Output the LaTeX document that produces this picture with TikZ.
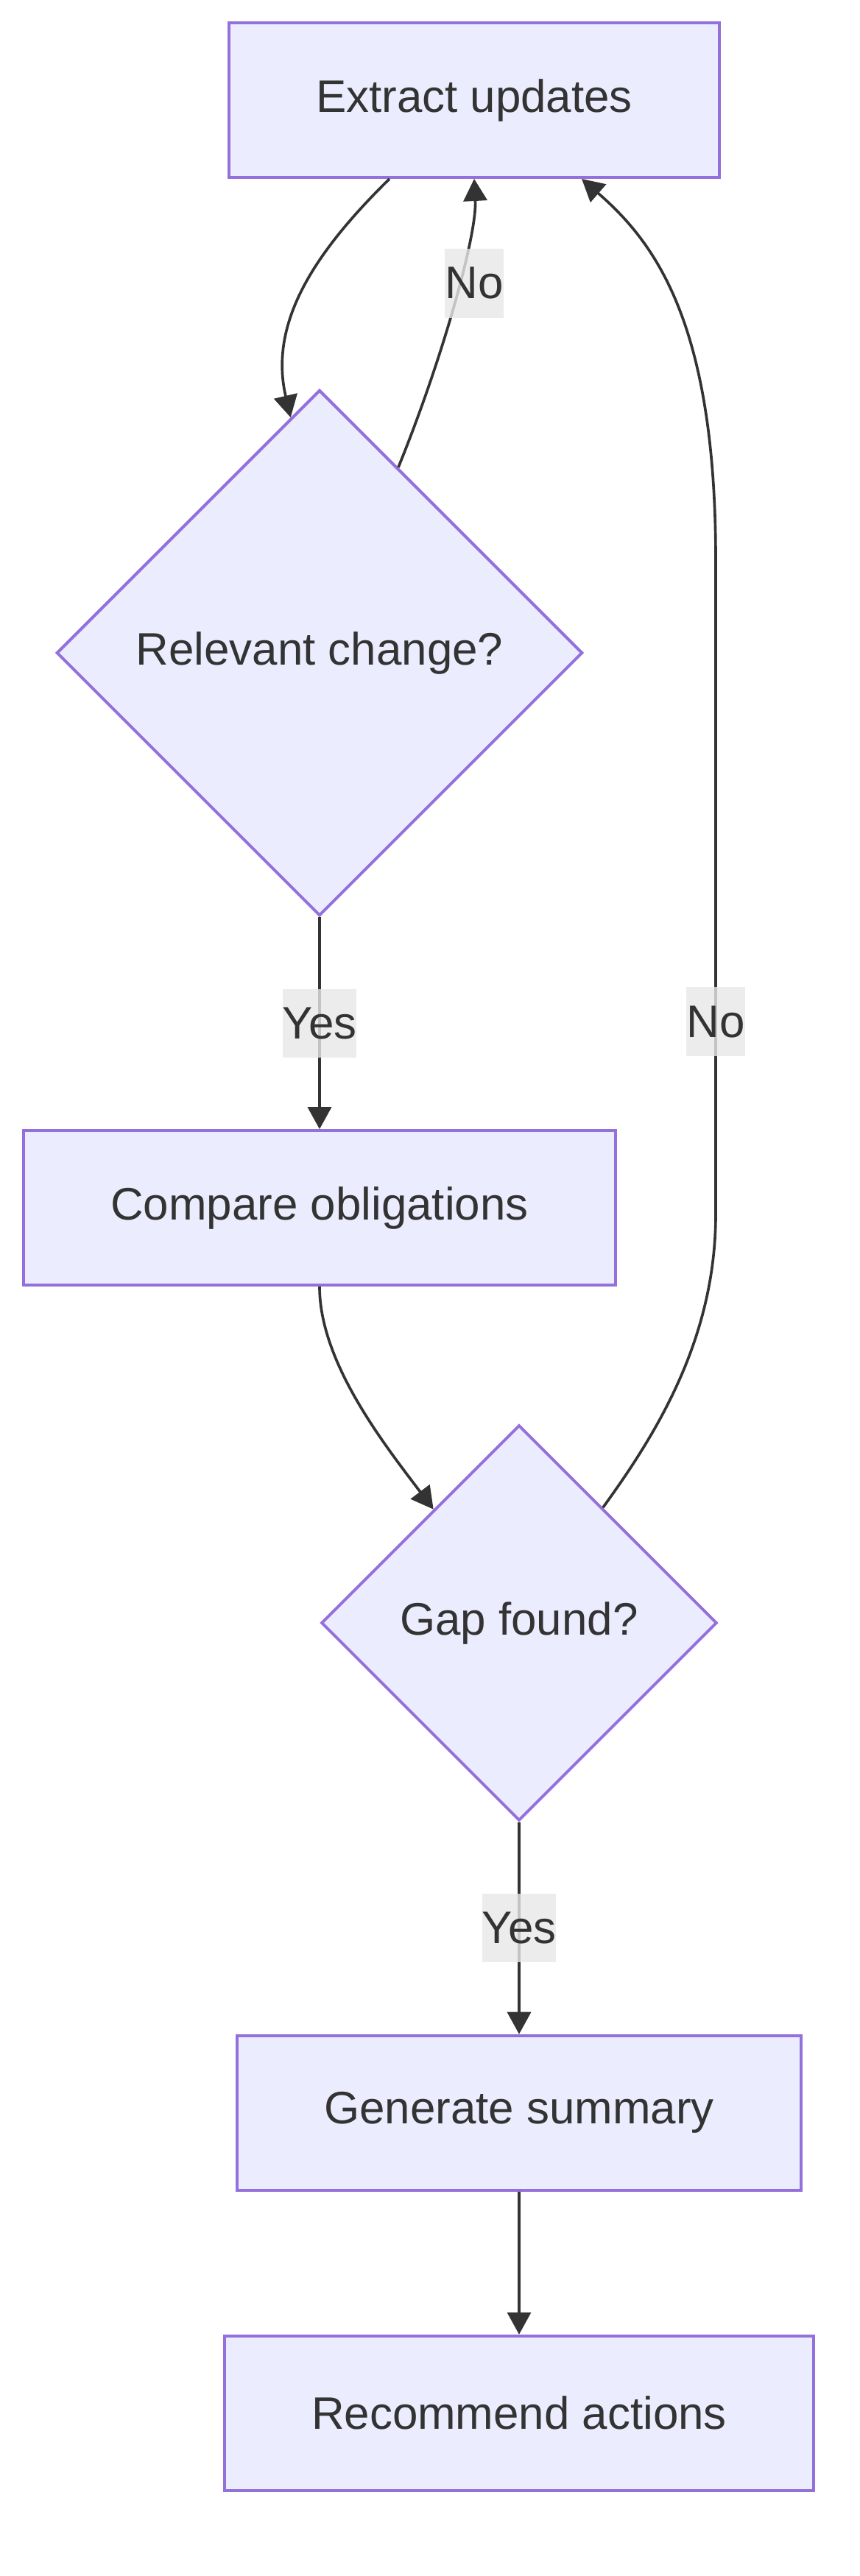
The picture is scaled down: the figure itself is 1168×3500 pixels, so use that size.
\documentclass[tikz,border=0pt]{standalone}
\usepackage{fontspec}
\setmainfont{Liberation Sans}
\usepackage{xcolor}
\usetikzlibrary{shapes.geometric, arrows.meta, positioning}
\definecolor{nodefill}{HTML}{ECECFF}
\definecolor{nodeline}{HTML}{9370DB}
\definecolor{ink}{HTML}{333333}
\definecolor{lblfill}{HTML}{E8E8E8}

\begin{document}
\begin{tikzpicture}[
    x=0.025cm, y=-0.025cm,
    font=\fontsize{44}{53}\selectfont,
    box/.style={rectangle, draw=nodeline, fill=nodefill, line width=2.8pt, text=ink,
                inner xsep=2.95cm, minimum height=5.25cm},
    decision/.style={diamond, aspect=1, draw=nodeline, fill=nodefill, line width=2.8pt,
                text=ink, inner sep=0pt},
    arr/.style={-{Triangle[length=0.75cm, width=0.8cm]}, draw=ink, line width=2.6pt},
    lbl/.style={fill=lblfill, fill opacity=0.8, text opacity=1, text=ink,
                inner xsep=0pt, inner ysep=0pt, minimum height=2.33cm}
]
\fill[white] (0,0) rectangle (1168,3500);
\useasboundingbox (0,0) rectangle (1168,3500);

\node[box] (ext) at (644,136) {Extract updates};
\node[decision, minimum width=17.85cm, minimum height=17.85cm] (rel) at (434,887) {Relevant change?};
\node[box, below=7.2cm of rel] (cmp) {Compare obligations};
\node[decision, minimum width=13.43cm, minimum height=13.43cm] (gap) at (705,2205) {Gap found?};
\node[box, below=7.2cm of gap] (gen) {Generate summary};
\node[box, below=4.85cm of gen] (rec) {Recommend actions};

\draw[arr] ([xshift=-2.875cm]ext.south) .. controls (425,345) and (365,440) .. (rel.97);
\draw[arr] (rel.67) .. controls (600,490) and (648,320) .. (ext.south)
    node[lbl] (no1) at (644,385) {No};
\draw[arr] (rel.south) -- (cmp.north) node[lbl, midway] (yes1) {Yes};
\draw[arr] (cmp.south) .. controls (434,1850) and (520,1960) .. (gap.127);
\draw[arr] (gap.54) .. controls (890,1950) and (972,1820) .. (972,1650) -- (972,760)
    .. controls (972,440) and (890,330) .. ([xshift=3.65cm]ext.south)
    node[lbl] (no2) at (972,1388) {No};
\draw[arr] (gap.south) -- (gen.north) node[lbl, midway] (yes2) {Yes};
\draw[arr] (gen) -- (rec);
\end{tikzpicture}
\end{document}
